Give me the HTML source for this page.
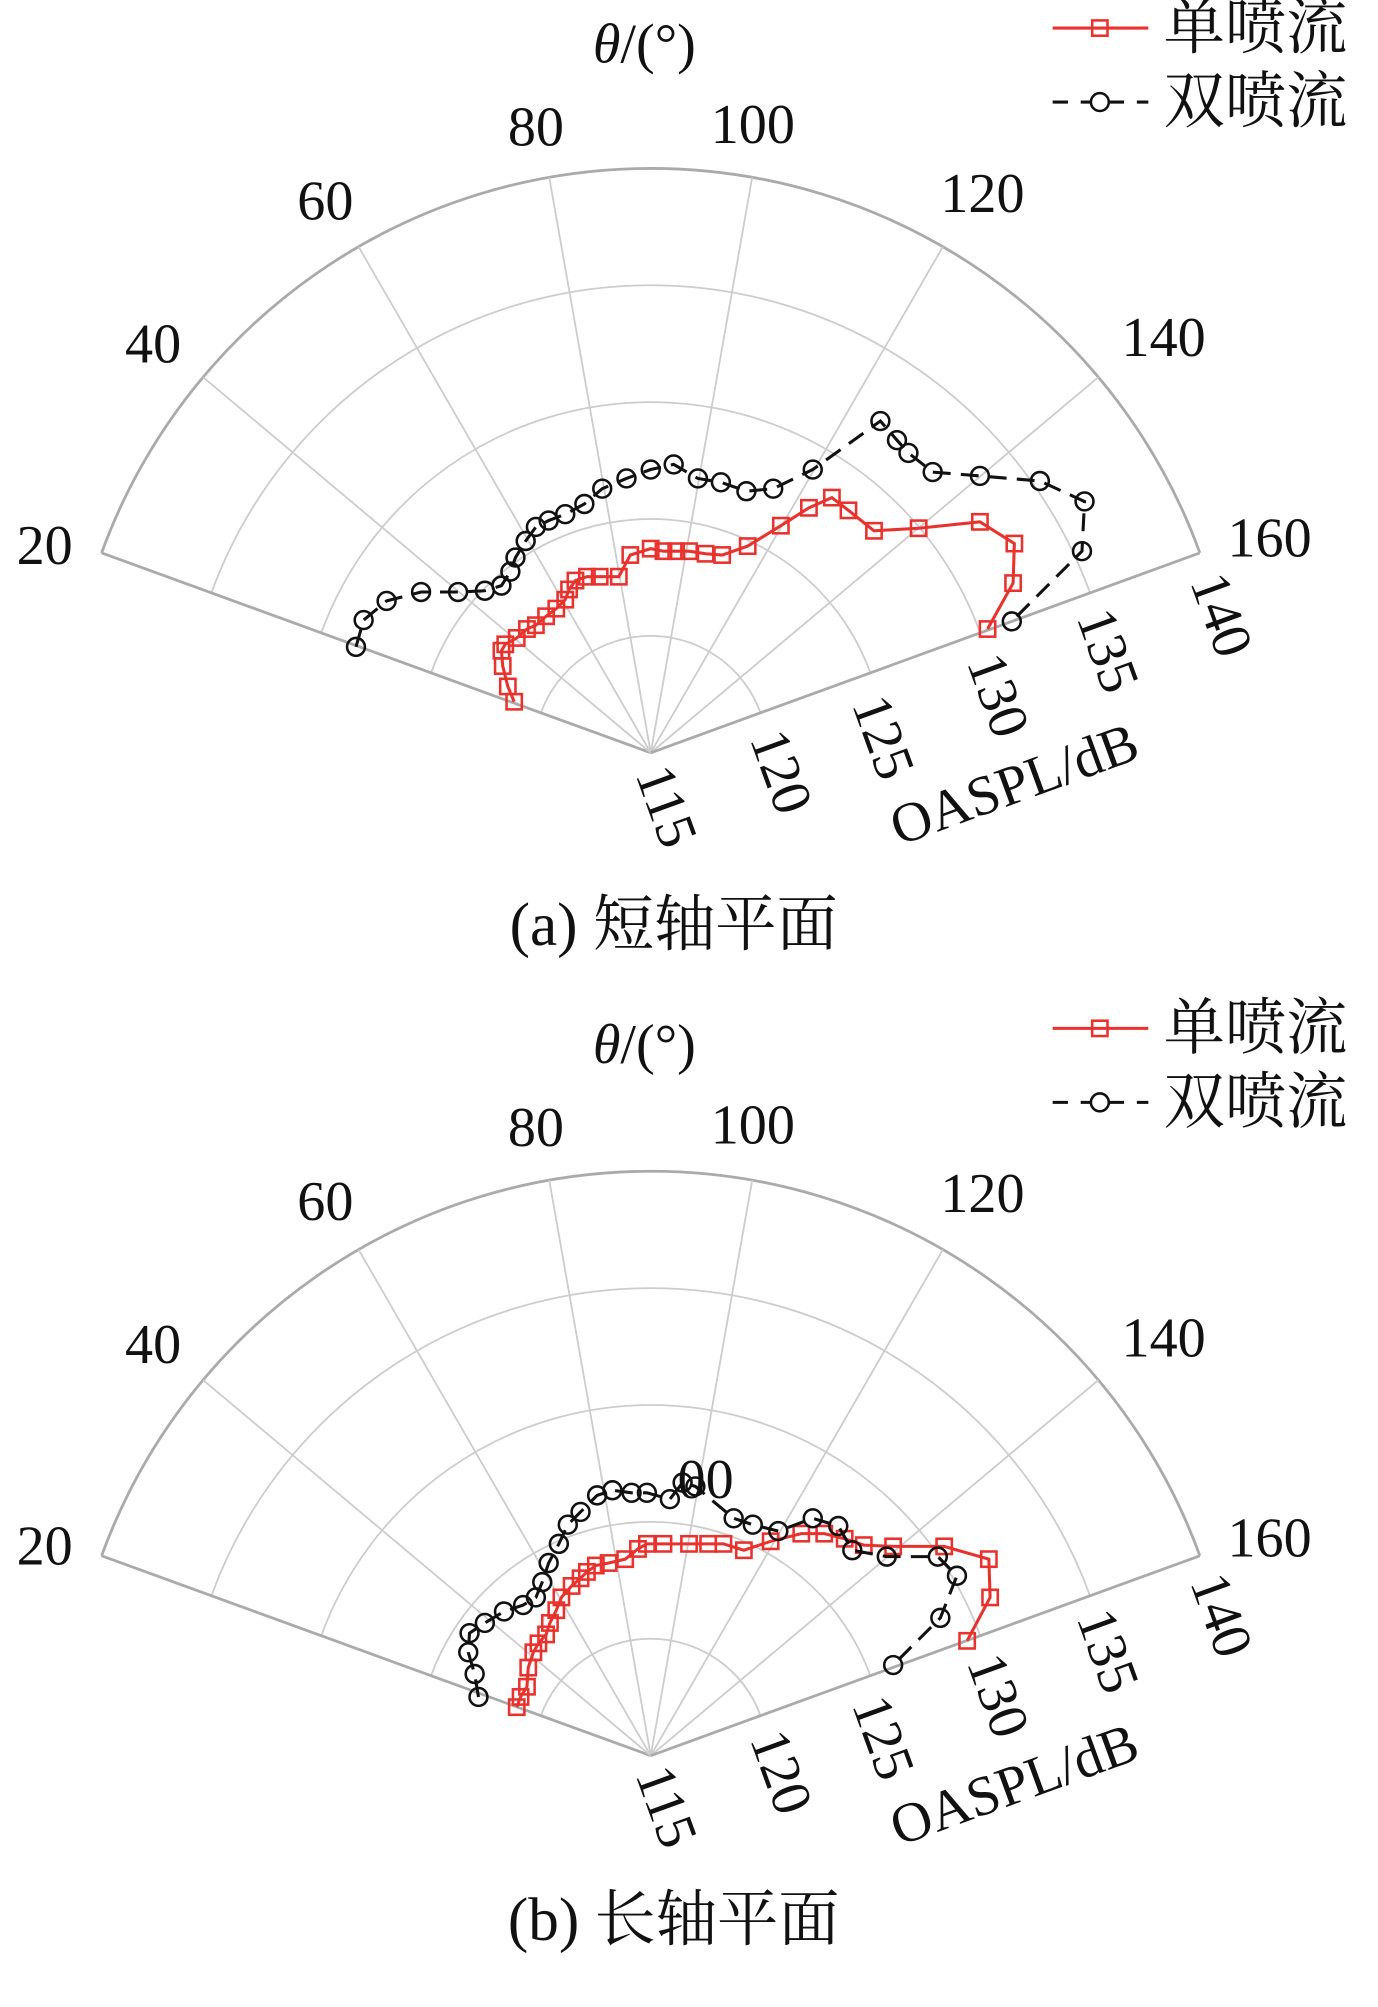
<!DOCTYPE html>
<html><head><meta charset="utf-8"><style>
html,body{margin:0;padding:0;background:#fff;}
svg{display:block;}
text{font-family:"Liberation Serif","Noto Serif CJK SC",serif;fill:#111;}
</style></head><body>
<svg id="s" width="1378" height="2007" viewBox="0 0 1080 1573" preserveAspectRatio="none" xmlns="http://www.w3.org/2000/svg"></svg>
<script>
const s=document.getElementById('s');let h='';
const R=458,D=Math.PI/180;
function fan(cx,cy){
 for(let k=1;k<=5;k++){const r=R*k/5;
  const x1=cx+r*Math.cos(160*D),y1=cy-r*Math.sin(160*D),x2=cx+r*Math.cos(20*D),y2=cy-r*Math.sin(20*D);
  h+=`<path d="M${x1} ${y1} A${r} ${r} 0 0 1 ${x2} ${y2}" fill="none" stroke="${k==5?'#aaa':'#ccc'}" stroke-width="${k==5?2.2:1.4}"/>`;}
 for(let t=20;t<=160;t+=20){const a=(180-t)*D;
  h+=`<line x1="${cx}" y1="${cy}" x2="${cx+R*Math.cos(a)}" y2="${cy-R*Math.sin(a)}" stroke="${(t==20||t==160)?'#aaa':'#ccc'}" stroke-width="${(t==20||t==160)?2.2:1.4}"/>`;}
}
function series(pts,red){
 const c=red?'#e8322d':'#111';
 h+=`<polyline points="${pts.map(p=>p.join(',')).join(' ')}" fill="none" stroke="${c}" stroke-width="2.4" ${red?'':'stroke-dasharray="14,8"'}/>`;
 pts.forEach(p=>{ if(red) h+=`<rect x="${p[0]-6}" y="${p[1]-6}" width="12" height="12" fill="none" stroke="${c}" stroke-width="2"/>`;
 else h+=`<circle cx="${p[0]}" cy="${p[1]}" r="7" fill="none" stroke="${c}" stroke-width="2"/>`;});
}
function T(x,y,t,sz,rot,anch){h+=`<text x="${x}" y="${y}" font-size="${sz||40}" text-anchor="${anch||'middle'}" dominant-baseline="central" ${rot!=null?`transform="rotate(${rot} ${x} ${y})"`:''}>${t}</text>`;}
function labels(dy){
 [[420,100,'80'],[590,98,'100'],[255,158,'60'],[770,152,'120'],[120,270,'40'],[912,265,'140'],[35,428,'20'],[995,422,'160']].forEach(a=>T(a[0],a[1]+dy,a[2],44));
 [[522,632,'115'],[612,605,'120'],[692,578,'125'],[782,545,'130'],[868,510,'135'],[957,482,'140']].forEach(a=>T(a[0],a[1]+dy,a[2],44,70));
 T(795,615+dy,'OASPL/dB',44,-20);
 h+=`<text x="505" y="${35+dy}" font-size="44" text-anchor="middle" dominant-baseline="central"><tspan font-style="italic">θ</tspan>/(°)</text>`;
 h+=`<line x1="825" y1="${22+dy}" x2="900" y2="${22+dy}" stroke="#e8322d" stroke-width="2.4"/><rect x="856" y="${16+dy}" width="12" height="12" fill="none" stroke="#e8322d" stroke-width="2"/>`;
 T(912,22+dy,'单喷流',48,null,'start');
 h+=`<line x1="825" y1="${80+dy}" x2="900" y2="${80+dy}" stroke="#111" stroke-width="2.4" stroke-dasharray="12,10"/><circle cx="862" cy="${80+dy}" r="7" fill="#fff" stroke="#111" stroke-width="2"/>`;
 T(912,80+dy,'双喷流',48,null,'start');
}
fan(510,590);fan(510,1376);
series([[403,550],[398,538],[394,522],[393,510],[396,505],[405,500],[413,493],[420,490],[428,483],[436,477],[443,470],[446,462],[451,455],[460,452],[470,452],[485,452],[494,435],[510,430],[520,432],[530,432],[540,432],[553,434],[566,435],[586,428],[612,412],[634,398],[652,390],[665,400],[685,416],[720,414],[768,409],[795,426],[794,457],[774,493]],true);
series([[279,507],[285,486],[303,471],[330,464],[359,464],[380,463],[393,459],[400,448],[404,437],[412,424],[420,413],[430,408],[443,403],[458,395],[472,383],[491,375],[510,368],[528,364],[547,375],[565,378],[585,385],[606,383],[637,368],[690,330],[703,345],[712,355],[731,370],[768,373],[815,377],[850,393],[848,432],[793,487]],false);
series([[405,1338],[408,1330],[413,1322],[414,1307],[418,1295],[422,1288],[428,1281],[431,1272],[436,1262],[440,1252],[448,1243],[455,1237],[460,1232],[467,1227],[477,1225],[490,1222],[500,1214],[507,1210],[520,1210],[540,1210],[555,1210],[567,1210],[583,1215],[604,1208],[628,1202],[646,1202],[662,1206],[677,1211],[700,1212],[740,1212],[775,1222],[776,1252],[758,1286]],true);
series([[375,1330],[372,1312],[367,1295],[368,1280],[380,1272],[395,1263],[410,1258],[420,1252],[425,1240],[430,1225],[438,1210],[445,1195],[455,1185],[468,1172],[480,1168],[495,1170],[507,1170],[525,1175],[535,1162],[545,1165],[575,1190],[590,1195],[610,1200],[637,1190],[657,1196],[668,1215],[695,1220],[735,1220],[750,1235],[737,1268],[700,1305]],false);
labels(0);labels(784);
T(553,1160,'00',44);
T(528,725,'(a) 短轴平面',48);
T(528,1505,'(b) 长轴平面',48);
s.innerHTML=h;
</script>
</body></html>
